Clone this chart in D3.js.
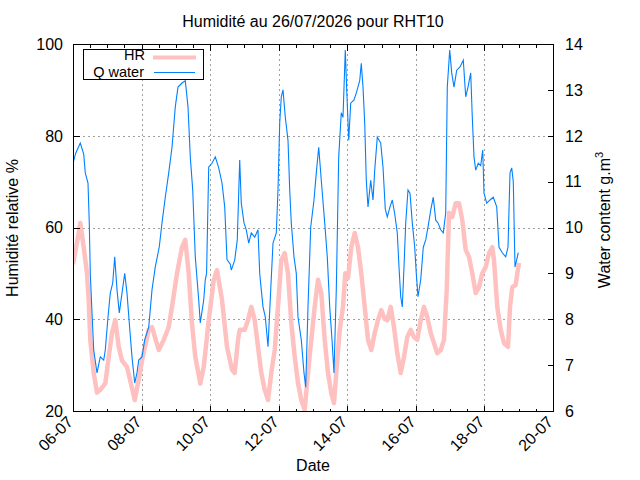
<!DOCTYPE html>
<html><head><meta charset="utf-8">
<script src="https://cdn.jsdelivr.net/npm/d3@7"></script>
<style>
body{margin:0;background:#fff}
text{font-family:"Liberation Sans",Arial,Helvetica,sans-serif;font-size:16px;fill:#000}
</style>
</head><body>
<svg id="c" width="640" height="480"></svg>
<script>
// ---------- data ----------
const titleText = "Humidité au 26/07/2026 pour RHT10";
const startDate = "2026-07-06T00:00:00Z";
const xTickLabels = ["06-07","08-07","10-07","12-07","14-07","16-07","18-07","20-07"];
const yLeftTicks = [20,40,60,80,100];
const yRightTicks = [6,7,8,9,10,11,12,13,14];

// hours since 06-07 00:00
const hrHours = [0,4,5.1,7.5,9.8,11,12.1,14.5,16.8,19.1,
 22.6,25,27.3,29.6,32,34.3,37.8,41.3,43.2,46,
 48.3,53,55.3,60,63.5,67,69.3,72.8,76.3,78.6,
 81,83.3,85.6,89.1,91.5,95,98.5,100.8,104.3,107.8,
 111.3,113.2,115.5,116.7,120.2,122.5,124.8,127.2,129.5,131.8,
 134.2,136.5,138.8,141.2,143.5,145.8,148.2,150.5,152.8,155.2,
 157.5,159.8,162.2,164.5,166.8,169.2,171.5,173.8,176.2,178.5,
 180.8,182.7,184.3,186.7,189,190.6,192.5,194.8,197.2,199.5,
 201.8,204.2,206.5,208.8,211.2,213.5,215.8,218.2,220,222.4,
 224.7,227,229.4,231.7,234,236.4,238.7,241,243.4,245.7,
 248,250.4,252.7,255,257.4,259.7,261.6,263.2,265.5,267.9,
 270.2,272.5,274.9,277.2,279.5,281.9,284.2,286.5,288.9,291.2,
 293.5,294.7,297,299.4,301.7,304.5,305.9,307.5,309.9,311,
 312.2];
const hrValues = [52,58.8,61,55.7,50,44,35.5,28.3,24,24.6,
 26,31.8,37,39.8,34,31,29.6,25,22.4,26.8,
 31,37.7,38.3,33.3,35.5,38.3,42.7,50,55.7,57.3,
 50,39,31.8,26,29.6,39.8,48.5,50.7,44.2,34,
 29,28.3,35.5,37.7,37.7,39.8,42.7,39.8,34,28.3,
 24.6,22.4,28.3,33.3,42.7,52.9,54.4,50,39.2,31.8,
 26.1,22.4,20.2,28.3,35.5,42.7,48.6,45.7,35.5,28.3,
 23.9,21.7,28.3,37.7,42.7,50,49,55.7,58.8,55.7,
 50,42.7,35.5,33.3,37,39.8,42,40,39.8,42.7,
 38.3,32.6,28.3,31.8,36.1,37.7,36.1,35.5,39.8,42.7,
 40.5,37,34.8,32.6,33.3,35.5,46.4,63.2,62.3,65.3,
 65.3,61.6,55.1,53.6,50,45.7,47,50,51.4,54.4,
 55.7,52.9,42.7,37.7,34.8,34,42.7,47,47.5,50,
 52.3];

const qHours = [0,1.9,5.1,7.5,8.6,10.5,11.4,12.1,13.3,14.5,
 16.8,19.1,21.5,22.6,24.5,26.1,27.8,29.2,30.8,32.4,
 34.3,36.2,37.8,39.4,41.3,43.2,44.8,46,48.3,50.2,
 53,55.3,57.6,60.4,62.3,64.6,67,69.3,71.6,73.5,
 76.3,78.6,80.5,82.1,83.8,85.6,88,89.1,91.5,92.6,
 93.5,95,97.3,99.6,102,104.3,106.2,107.8,110.1,110.8,
 113.2,115,116.7,117.8,119.7,121.3,123,124.8,127.2,129.5,
 130.7,131.8,133,134.6,136.5,138.4,140,142.3,143.5,144.7,
 145.8,147,148.6,150.5,151.7,152.8,154.7,156.3,157.5,159.8,
 161.7,162.9,164.5,166.4,168.7,170.3,172,173.8,176.2,178,
 179.7,181.3,182.7,184.3,186,187.8,189,190.6,191.6,193,
 194.4,196.7,198.3,200.7,201.8,203,204.2,205.3,206.5,208.4,
 210,211.2,213,215.4,217,218.6,220,221.9,223.5,225.2,
 227,228.2,229.4,230.5,231.7,232.9,234.5,235.9,237.5,239.2,
 240.3,241.5,243.4,245.2,246.9,248.5,250.4,252.2,253.9,255.5,
 257.4,259.2,260.9,262,263.7,265.1,266.7,268.6,270.9,273.2,
 274.9,276.5,278.4,279.5,280.7,281.9,283.7,285.4,286.8,287.7,
 289.6,291.9,294.2,296.6,298.2,300.5,302.9,304.5,305.9,307.1,
 308.2,309.4,310.6,311.7];
const qValues = [11.4,11.62,11.84,11.6,11.19,10.97,10.1,9.0,8.14,7.33,
 6.83,7.18,7.11,7.33,8.05,8.57,8.79,9.36,8.64,8.14,
 8.57,9.0,8.57,7.92,7.18,6.61,6.83,7.11,7.18,7.55,
 7.83,8.64,9.14,9.58,10.1,10.66,11.19,11.75,12.63,13.06,
 13.15,13.2,12.63,11.54,10.82,9.36,8.42,7.92,8.42,8.86,
 9.0,11.32,11.4,11.54,11.3,10.97,10.45,9.3,9.2,9.07,
 9.29,9.73,11.47,10.53,10.1,9.95,9.66,9.88,9.79,9.95,
 9.0,8.64,8.27,8.05,7.4,8.64,9.66,9.88,10.82,12.28,
 12.85,13.0,12.41,11.9,10.82,10.1,9.36,9.0,8.05,7.55,
 6.83,6.52,8.27,10.01,10.6,11.19,11.75,11.03,10.1,9.36,
 8.27,7.55,6.83,8.64,11.54,12.5,12.4,13.87,13.0,11.9,
 12.71,12.78,12.93,13.2,13.58,13.06,12.28,11.03,10.45,11.03,
 10.6,11.25,11.97,11.84,11.32,10.4,10.23,10.45,10.6,10.3,
 9.88,9.14,8.49,8.27,9.14,10.1,10.82,10.75,10.1,9.57,
 9.0,8.49,8.86,9.57,9.73,10.01,10.38,10.66,10.16,10.1,
 9.95,9.88,10.32,13.06,13.87,13.37,13.06,13.43,13.5,13.65,
 12.85,13.06,13.37,12.41,11.54,11.25,11.4,11.35,11.69,10.75,
 10.53,10.6,10.66,10.45,9.57,9.45,9.36,9.57,11.19,11.3,
 11.0,9.14,9.3,9.45];

// ---------- layout ----------
const L = 73, R = 553, T = 44, B = 411;
const svg = d3.select("#c");

const t0 = new Date(startDate);
const toDate = h => new Date(t0.getTime() + h * 3600e3);
const parseTick = d3.utcParse("%d-%m-%Y");
const tickDates = xTickLabels.map(s => parseTick(s + "-2026"));

const x = d3.scaleUtc().domain([tickDates[0], tickDates[tickDates.length-1]]).range([L, R]);
const yL = d3.scaleLinear().domain([20, 100]).range([B, T]);
const yR = d3.scaleLinear().domain([6, 14]).range([B, T]);

const hrData = hrHours.map((h,i) => ({t: toDate(h), v: hrValues[i]}));
const qData = qHours.map((h,i) => ({t: toDate(h), v: qValues[i]}));

// grid
const grid = svg.append("g").attr("stroke", "#a0a0a0").attr("stroke-width", 1)
  .attr("stroke-dasharray", "2,3").attr("shape-rendering", "crispEdges");
tickDates.slice(1, -1).forEach(d => {
  const px = Math.round(x(d)) + 0.5;
  grid.append("line").attr("x1", px).attr("x2", px).attr("y1", T).attr("y2", B);
});
yLeftTicks.slice(1, -1).forEach(v => {
  const py = Math.round(yL(v)) + 0.5;
  grid.append("line").attr("x1", L).attr("x2", R).attr("y1", py).attr("y2", py);
});

// lines
svg.append("clipPath").attr("id","pc").append("rect")
  .attr("x", L).attr("y", T).attr("width", R-L).attr("height", B-T);
svg.append("path").datum(hrData)
  .attr("clip-path","url(#pc)")
  .attr("fill","none").attr("stroke","#ffc0c0").attr("stroke-width",4.5).attr("stroke-linejoin","round")
  .attr("d", d3.line().x(d => x(d.t)).y(d => yL(d.v)));
svg.append("path").datum(qData)
  .attr("clip-path","url(#pc)")
  .attr("fill","none").attr("stroke","#0080ff").attr("stroke-width",1.1)
  .attr("d", d3.line().x(d => x(d.t)).y(d => yR(d.v)));

// border
svg.append("rect").attr("x", L+0.5).attr("y", T+0.5).attr("width", R-L).attr("height", B-T)
  .attr("fill","none").attr("stroke","#000").attr("stroke-width",1).attr("shape-rendering","crispEdges");

// axes via d3-axis (inward ticks)
const minorDates = d3.utcHours(tickDates[0], tickDates[tickDates.length-1], 12);
function styleAxis(g){ g.select(".domain").remove(); g.selectAll("line").attr("stroke","#000").attr("shape-rendering","crispEdges"); }

svg.append("g").attr("transform", `translate(0,${B+0.5})`)
  .call(d3.axisTop(x).tickValues(minorDates).tickSize(3).tickFormat(""))
  .call(styleAxis);
svg.append("g").attr("transform", `translate(0,${B+0.5})`)
  .call(d3.axisTop(x).tickValues(tickDates).tickSize(6).tickFormat(""))
  .call(styleAxis);
svg.append("g").attr("transform", `translate(0,${T+0.5})`)
  .call(d3.axisBottom(x).tickValues(minorDates).tickSize(3).tickFormat(""))
  .call(styleAxis);
svg.append("g").attr("transform", `translate(0,${T+0.5})`)
  .call(d3.axisBottom(x).tickValues(tickDates).tickSize(6).tickFormat(""))
  .call(styleAxis);

// x tick labels rotated
const fmt = d3.utcFormat("%d-%m");
svg.append("g").selectAll("text").data(tickDates).join("text")
  .attr("text-anchor","end")
  .attr("transform", d => `translate(${x(d)+1},${B+12}) rotate(-45)`)
  .text(d => fmt(d));

// left axis
svg.append("g").attr("transform", `translate(${L+0.5},0)`)
  .call(d3.axisRight(yL).tickValues(yLeftTicks).tickSize(6).tickFormat(""))
  .call(styleAxis);
svg.append("g").selectAll("text").data(yLeftTicks).join("text")
  .attr("x", L-10).attr("y", d => yL(d)).attr("dy","0.36em").attr("text-anchor","end").text(d => d);

// right axis
svg.append("g").attr("transform", `translate(${R+0.5},0)`)
  .call(d3.axisLeft(yR).tickValues(yRightTicks).tickSize(6).tickFormat(""))
  .call(styleAxis);
svg.append("g").selectAll("text").data(yRightTicks).join("text")
  .attr("x", R+12).attr("y", d => yR(d)).attr("dy","0.36em").attr("text-anchor","start").text(d => d);

// titles
svg.append("text").attr("x", 313).attr("y", 27).attr("text-anchor","middle").text(titleText);
svg.append("text").attr("x", 313).attr("y", 471).attr("text-anchor","middle").text("Date");
svg.append("text").attr("transform","translate(18,228) rotate(-90)").attr("text-anchor","middle").text("Humidité relative %");
const rl = svg.append("text").attr("transform","translate(610,220) rotate(-90)").attr("text-anchor","middle");
rl.append("tspan").text("Water content g.m");
rl.append("tspan").attr("dy","-7").style("font-size","11px").text("3");

// legend
const lg = svg.append("g");
lg.append("rect").attr("x", 83.5).attr("y", 49.5).attr("width", 120).attr("height", 30)
  .attr("fill","#fff").attr("stroke","#000").attr("shape-rendering","crispEdges");
lg.append("text").attr("x", 145).attr("y", 60).attr("text-anchor","end").style("font-size","14.5px").text("HR");
lg.append("text").attr("x", 144).attr("y", 76.5).attr("text-anchor","end").style("font-size","14.5px").text("Q water");
lg.append("line").attr("x1",153).attr("x2",196).attr("y1",57.5).attr("y2",57.5).attr("stroke","#ffc0c0").attr("stroke-width",4);
lg.append("line").attr("x1",154).attr("x2",195).attr("y1",72.5).attr("y2",72.5).attr("stroke","#0080ff").attr("stroke-width",1.1);
</script>
</body></html>
